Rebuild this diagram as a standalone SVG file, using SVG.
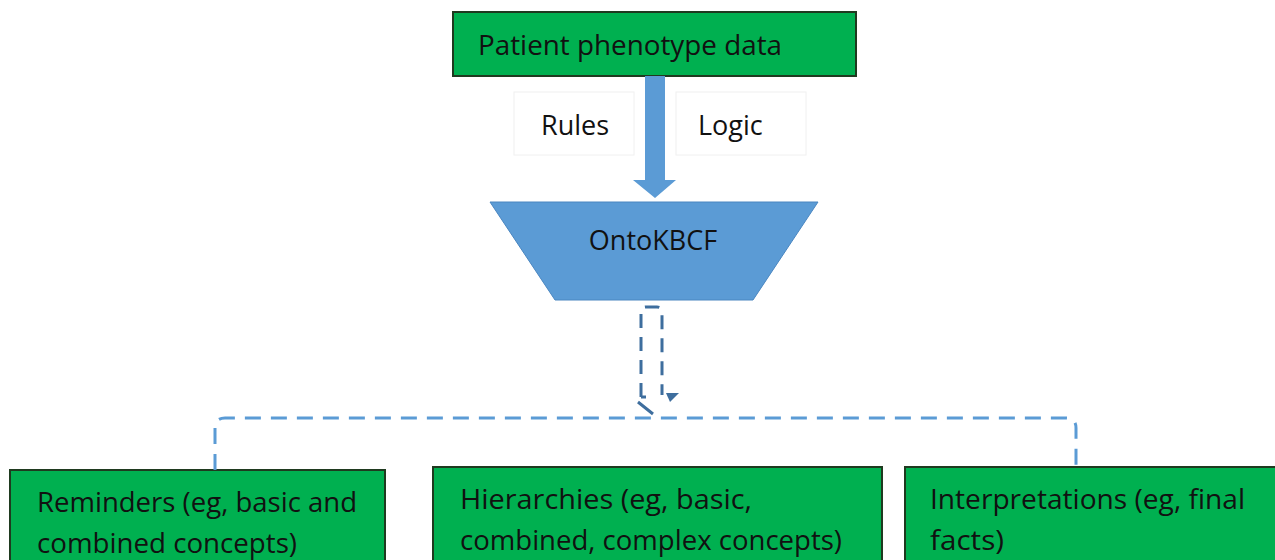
<svg xmlns="http://www.w3.org/2000/svg" width="1275" height="560" viewBox="0 0 1275 560">
<style>
.box{fill:#00B050;stroke:#1F3A1F;stroke-width:2}
.t{font-family:"Open Sans","Liberation Sans",sans-serif;fill:#111;font-size:27px}
.c{lengthAdjust:spacingAndGlyphs}
.lbl{fill:#fff;stroke:#f0f0f0;stroke-width:1}
</style>
<rect width="1275" height="560" fill="#fff"/>
<g id="patient">
<rect class="box" x="453" y="12" width="403" height="64"/>
<text class="t" x="478" y="55" textLength="304" lengthAdjust="spacingAndGlyphs">Patient phenotype data</text>
</g>
<g id="rules">
<rect class="lbl" x="514" y="92" width="120" height="63"/>
<text class="t" x="541" y="135">Rules</text>
</g>
<g id="logic">
<rect class="lbl" x="676" y="92" width="130" height="63"/>
<text class="t" x="698" y="135">Logic</text>
</g>
<g id="ontokbcf">
<polygon points="490,202 818,202 753,300 555,300" fill="#5B9BD5" stroke="#4A86C0" stroke-width="1"/>
<text class="t" x="653" y="250" text-anchor="middle">OntoKBCF</text>
</g>
<g id="reminders">
<rect class="box" x="10" y="470" width="375" height="100" stroke="#555"/>
<text class="t" x="37" y="512" textLength="320" lengthAdjust="spacingAndGlyphs">Reminders (eg, basic and</text>
<text class="t" x="37" y="553" textLength="260" lengthAdjust="spacingAndGlyphs">combined concepts)</text>
</g>
<g id="hierarchies">
<rect class="box" x="433" y="467" width="449" height="100"/>
<text class="t" x="460" y="509" textLength="292" lengthAdjust="spacingAndGlyphs">Hierarchies (eg, basic,</text>
<text class="t" x="460" y="550" textLength="382" lengthAdjust="spacingAndGlyphs">combined, complex concepts)</text>
</g>
<g id="interpretations">
<rect class="box" x="905" y="467" width="380" height="100"/>
<text class="t" x="930" y="509" textLength="315" lengthAdjust="spacingAndGlyphs">Interpretations (eg, final</text>
<text class="t" x="930" y="550" textLength="74" lengthAdjust="spacingAndGlyphs">facts)</text>
</g>
<g id="connectors">
<polygon points="645,76 665,76 665,180 676,180 655,198 633,180 645,180" fill="#5B9BD5"/>
<path d="M641,397 L641,312 Q641,307 646,307 L657,307 Q662,307 662,312 L662,395" fill="none" stroke="#3E6E9E" stroke-width="3" stroke-dasharray="14,9"/>
<path d="M641,397 L646,397 M638,402 L653,414" fill="none" stroke="#3E6E9E" stroke-width="3"/>
<polygon points="666,393 679,393 670,402" fill="#3E6E9E"/>
<path d="M215,470 L215,428 Q215,418 225,418 L1066,418 Q1076,418 1076,428 L1076,470" fill="none" stroke="#5B9BD5" stroke-width="3" stroke-dasharray="16,10"/>
</g>
</svg>
